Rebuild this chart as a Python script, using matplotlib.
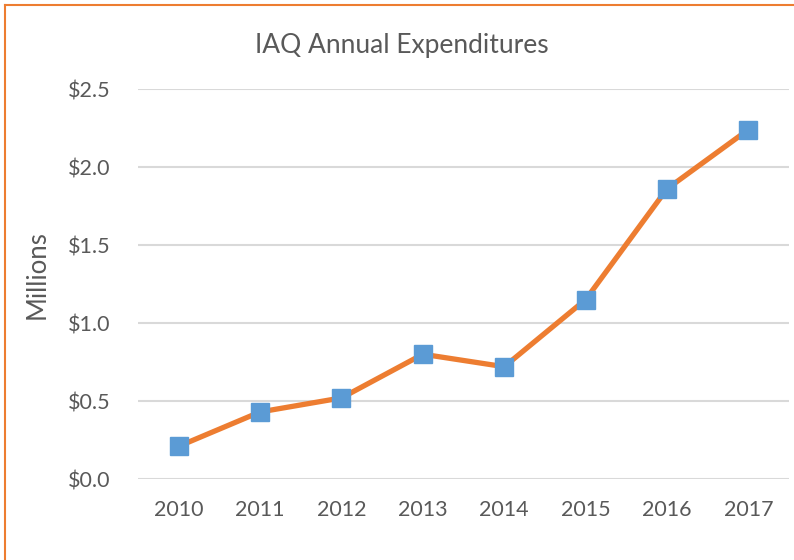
import matplotlib.pyplot as plt
from matplotlib.lines import Line2D

# -----------------------
# Data
# -----------------------
years = ["2010", "2011", "2012", "2013", "2014", "2015", "2016", "2017"]
spend = [0.21, 0.43, 0.52, 0.80, 0.72, 1.15, 1.86, 2.24]   # $ millions
y_ticks = [0.0, 0.5, 1.0, 1.5, 2.0, 2.5]

GREY = "#595959"
ORANGE = "#ED7D31"
BLUE = "#5B9BD5"

plt.rcParams["font.family"] = ["Lato", "DejaVu Sans"]

fig = plt.figure(figsize=(7.94, 5.6), dpi=100)
ax = fig.add_axes([0.1738, 0.1446, 0.82, 0.6964])

x = list(range(len(years)))
ax.plot(x, spend, color=ORANGE, lw=3.8, marker="s", ms=13,
        mfc=BLUE, mec=BLUE, solid_capstyle="round", zorder=3)

ax.set_xlim(-0.5, len(years) - 0.5)
ax.set_ylim(0, 2.5)
ax.set_yticks(y_ticks)
ax.set_yticklabels([f"${v:.1f}" for v in y_ticks])
ax.set_xticks(x)
ax.set_xticklabels(years)

ax.grid(axis="y", color="#D9D9D9", lw=1.5)
ax.set_axisbelow(True)
for s in ax.spines.values():
    s.set_visible(False)
ax.tick_params(length=0, labelsize=15.5, colors=GREY, pad=15)
ax.tick_params(axis="y", pad=20)

ax.set_ylabel("Millions", fontsize=18.5, color=GREY)
ax.yaxis.set_label_coords(-0.135, 0.523)
fig.text(0.506, 0.918, "IAQ Annual Expenditures", ha="center", va="center",
         fontsize=19, color=GREY)

# orange chart border (left and top only visible in the crop)
fig.add_artist(Line2D([0.006, 0.006], [0, 0.991], color=ORANGE, lw=1.5))
fig.add_artist(Line2D([0.006, 1.0], [0.991, 0.991], color=ORANGE, lw=1.5))

fig.savefig("out.png", dpi=100)
